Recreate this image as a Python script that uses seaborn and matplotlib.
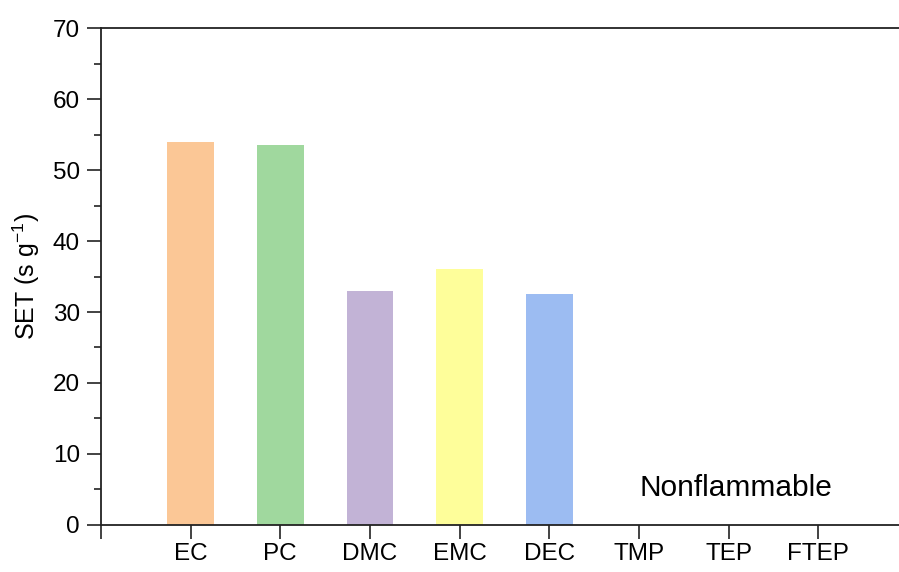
import pandas as pd
import seaborn as sns
import matplotlib.pyplot as plt
from matplotlib.ticker import MultipleLocator

# data
solvents = ["EC", "PC", "DMC", "EMC", "DEC", "TMP", "TEP", "FTEP"]
set_values = [54.0, 53.5, 33.0, 36.1, 32.5, 0, 0, 0]
bar_colors = ["#FBC796", "#A0D89E", "#C2B3D6", "#FEFE9A", "#9CBCF2",
              "#FFFFFF", "#FFFFFF", "#FFFFFF"]

df = pd.DataFrame({"solvent": solvents, "SET": set_values})

sns.set_style("ticks")
plt.rcParams['font.family'] = ['Liberation Sans', 'DejaVu Sans']
plt.rcParams['mathtext.fontset'] = 'custom'
plt.rcParams['mathtext.rm'] = 'Liberation Sans'
plt.rcParams['text.color'] = 'black'
plt.rcParams['axes.labelcolor'] = 'black'
plt.rcParams['xtick.color'] = 'black'
plt.rcParams['ytick.color'] = 'black'

fig = plt.figure(figsize=(8.99, 5.72), dpi=100)
ax = fig.add_axes([0.1123, 0.0822, 0.8877, 0.8688])

sns.barplot(data=df, x="solvent", y="SET", hue="solvent",
            palette=bar_colors, legend=False, width=0.52,
            edgecolor="none", saturation=1, ax=ax)

ax.set_xlim(-1, 7.9)
ax.set_ylim(0, 70)
ax.set_xticks(range(-1, 8))
ax.set_xticklabels([""] + solvents)
ax.yaxis.set_major_locator(MultipleLocator(10))
ax.yaxis.set_minor_locator(MultipleLocator(5))

ax.tick_params(axis="both", which="major", length=10, width=1.2,
               labelsize=17.5, direction="out", color="#222222")
ax.tick_params(axis="y", which="minor", length=5, width=1.2, color="#222222")
ax.tick_params(axis="x", pad=3)
ax.tick_params(axis="y", pad=5)

for side in ["left", "bottom", "top"]:
    ax.spines[side].set_linewidth(1.3)
    ax.spines[side].set_color("#222222")
ax.spines["right"].set_visible(False)

ax.set_xlabel("")
ax.set_ylabel(r"SET (s g$^{-1}$)", fontsize=18, labelpad=8)

ax.text(6.08, 5.2, "Nonflammable", fontsize=21.5, ha="center", va="center")

fig.savefig("out.png", dpi=100)
